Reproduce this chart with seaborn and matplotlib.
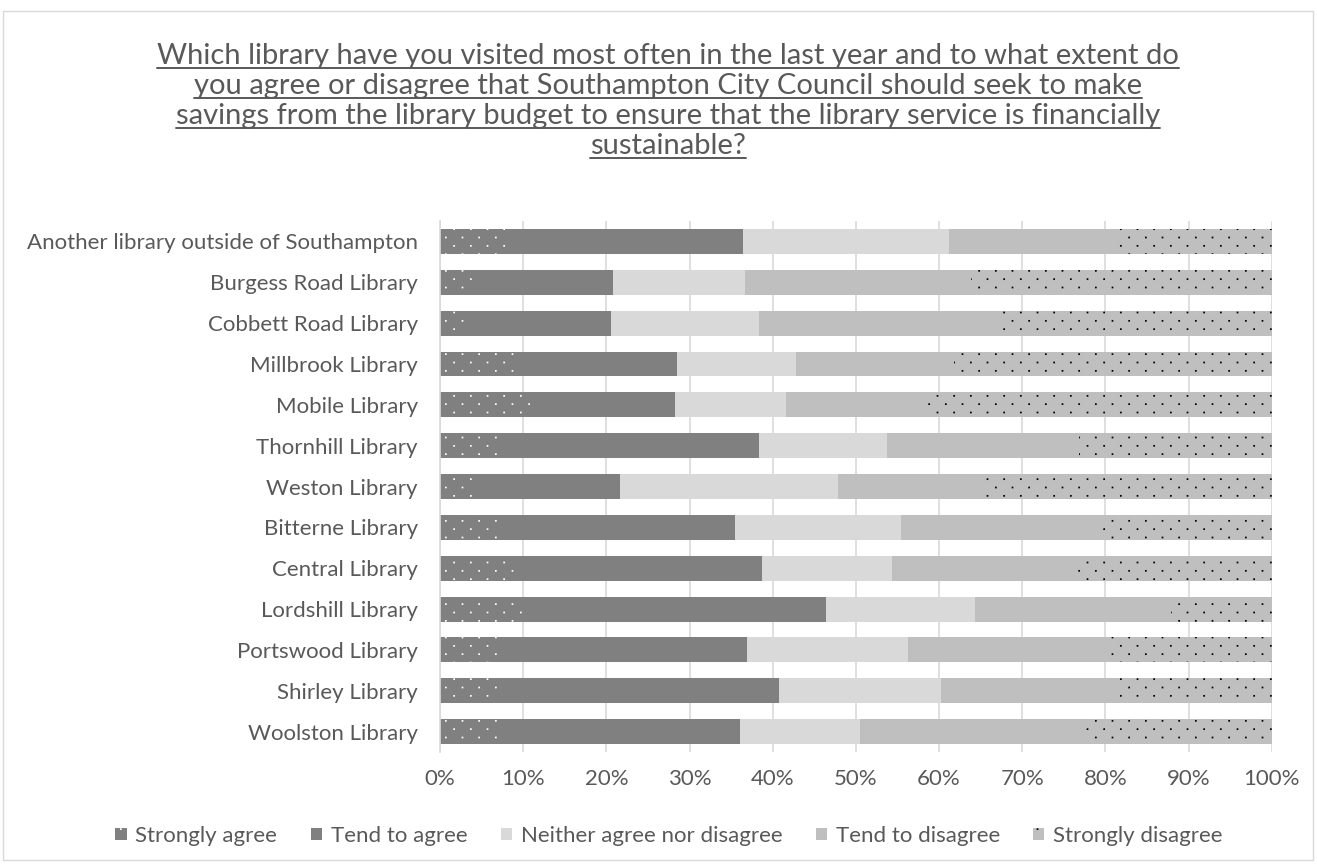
import matplotlib
matplotlib.use("Agg")
import matplotlib.pyplot as plt
from matplotlib import hatch as mhatch
from matplotlib.path import Path
from matplotlib.patches import Rectangle
from matplotlib.lines import Line2D
import numpy as np
import pandas as pd
import seaborn as sns

libraries = [
    "Another library outside of Southampton",
    "Burgess Road Library",
    "Cobbett Road Library",
    "Millbrook Library",
    "Mobile Library",
    "Thornhill Library",
    "Weston Library",
    "Bitterne Library",
    "Central Library",
    "Lordshill Library",
    "Portswood Library",
    "Shirley Library",
    "Woolston Library",
]

responses = ["Strongly agree", "Tend to agree", "Neither agree nor disagree",
             "Tend to disagree", "Strongly disagree"]

strongly_agree    = [8.2, 4.4, 3.2, 9.5, 11.6, 7.6, 4.3, 6.8, 9.0, 9.8, 7.3, 7.6, 7.6]
tend_to_agree     = [28.2, 16.4, 17.3, 19.0, 16.6, 30.8, 17.3, 28.7, 29.7, 36.6, 29.6, 33.1, 28.5]
neither           = [24.8, 15.9, 17.8, 14.3, 13.4, 15.4, 26.2, 19.9, 15.6, 17.9, 19.4, 19.5, 14.4]
tend_to_disagree  = [20.5, 27.2, 29.4, 19.0, 16.7, 23.0, 17.4, 23.6, 21.9, 23.6, 23.7, 21.6, 27.0]
strongly_disagree = [18.3, 36.1, 32.3, 38.2, 41.7, 23.2, 34.8, 21.0, 23.8, 12.1, 20.0, 18.2, 22.5]

tick_values = [0, 10, 20, 30, 40, 50, 60, 70, 80, 90, 100]
tick_labels = [f"{v}%" for v in tick_values]

title_lines = [
    "Which library have you visited most often in the last year and to what extent do",
    "you agree or disagree that Southampton City Council should seek to make",
    "savings from the library budget to ensure that the library service is financially",
    "sustainable?",
]


class SparseDots(mhatch.HatchPatternBase):
    """Small square dots on an offset grid: 6 columns x 12 rows per hatch cell."""

    def __init__(self, hatch, density):
        self.n = hatch.count(".")
        self.cols = 6 * self.n
        self.rows = 12 * self.n
        self.num_vertices = self.cols * self.rows * 5 if self.n else 0

    def set_vertices_and_codes(self, vertices, codes):
        s = 0.0038
        square = np.array([[-s, -s], [s, -s], [s, s], [-s, s], [-s, -s]])
        square_codes = [Path.MOVETO, Path.LINETO, Path.LINETO, Path.LINETO, Path.CLOSEPOLY]
        v_parts, c_parts = [], []
        for r in range(self.rows):
            y = (r + 0.5) / self.rows
            shift = 0.5 * (r % 2)
            for c in range(self.cols):
                x = (c + 0.25 + shift) / self.cols
                v_parts.append(square + [x, y])
                c_parts.append(square_codes)
        vertices[:] = np.concatenate(v_parts)
        codes[:] = np.concatenate(c_parts)


mhatch._hatch_types = [SparseDots if h is mhatch.SmallFilledCircles else h
                       for h in mhatch._hatch_types]

# fill colour, hatch, hatch colour per response
styles = {
    "Strongly agree":             ("#808080", ".", "white"),
    "Tend to agree":              ("#808080", "", "#808080"),
    "Neither agree nor disagree": ("#d9d9d9", "", "#d9d9d9"),
    "Tend to disagree":           ("#bfbfbf", "", "#bfbfbf"),
    "Strongly disagree":          ("#bfbfbf", ".", "black"),
}

shares = pd.DataFrame(
    {r: v for r, v in zip(responses, [strongly_agree, tend_to_agree, neither,
                                      tend_to_disagree, strongly_disagree])},
    index=libraries,
)
cumulative = shares.cumsum(axis=1)

sns.set_theme(style="white")
plt.rcParams["font.family"] = ["Lato", "DejaVu Sans"]
plt.rcParams["hatch.linewidth"] = 0.7
text_color = "#595959"
label_size = 16

fig = plt.figure(figsize=(13.17, 8.65), dpi=100)
ax = fig.add_axes([0.3341, 0.1306, 0.6315, 0.6139])

# stacked bars: draw cumulative totals from the rightmost segment down
for resp in reversed(responses):
    fill, hatch, hcol = styles[resp]
    df = pd.DataFrame({"library": libraries, "end": cumulative[resp].values})
    n_before = len(ax.patches)
    sns.barplot(data=df, x="end", y="library", orient="h", color=fill,
                width=0.61, ax=ax, saturation=1)
    for p in ax.patches[n_before:]:
        p.set_facecolor(fill)
        p.set_edgecolor(hcol)
        p.set_linewidth(0)
        if hatch:
            p.set_hatch(hatch)

ax.set_xlim(0, 100)
ax.set_xticks(tick_values)
ax.set_xticklabels(tick_labels)
ax.set_xlabel("")
ax.set_ylabel("")
ax.grid(axis="x", color="#d9d9d9", linewidth=1.2)
ax.set_axisbelow(True)
for side in ["top", "right", "bottom"]:
    ax.spines[side].set_visible(False)
ax.spines["left"].set_color("#d9d9d9")
ax.spines["left"].set_linewidth(1.2)
ax.tick_params(axis="x", length=0, pad=12, labelsize=label_size, labelcolor=text_color)
ax.tick_params(axis="y", length=0, pad=16, labelsize=label_size, labelcolor=text_color)

# title lines with underline
fig.canvas.draw()
renderer = fig.canvas.get_renderer()
title_y = [56, 86, 116, 146]
for line, ypx in zip(title_lines, title_y):
    t = fig.text(0.507, 1 - ypx / 865, line, ha="center", va="center",
                 fontsize=21, color=text_color)
    bb = t.get_window_extent(renderer=renderer)
    uy = (bb.y0 + 1) / fig.bbox.height
    fig.add_artist(Line2D([bb.x0 / fig.bbox.width, bb.x1 / fig.bbox.width], [uy, uy],
                          transform=fig.transFigure, color=text_color, linewidth=1.4))

# legend
handles = []
for resp in responses:
    fill, hatch, hcol = styles[resp]
    handles.append(Rectangle((0, 0), 1, 1, facecolor=fill, edgecolor=hcol,
                             linewidth=0, hatch=hatch))
leg = fig.legend(handles, responses, loc="center", bbox_to_anchor=(0.508, 1 - 836 / 865),
                 ncol=5, frameon=False, fontsize=label_size, handlelength=0.5,
                 handleheight=0.5, handletextpad=0.4, columnspacing=1.5)
for txt in leg.get_texts():
    txt.set_color(text_color)

# chart border
fig.add_artist(Rectangle((3 / 1317, 1 - 860 / 865), 1310 / 1317, 849 / 865,
                         transform=fig.transFigure, fill=False,
                         edgecolor="#d9d9d9", linewidth=1))

fig.savefig("out.png", dpi=100)
